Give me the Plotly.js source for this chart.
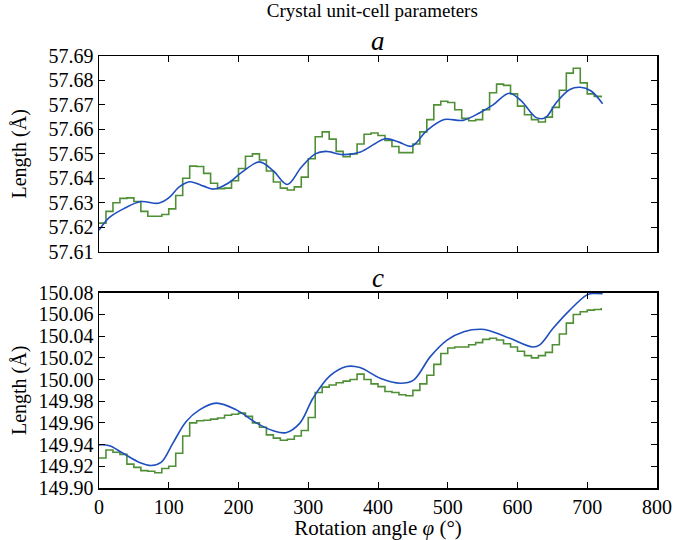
<!DOCTYPE html>
<html>
<head>
<meta charset="utf-8">
<script src="https://cdn.plot.ly/plotly-3.0.1.min.js"></script>
<style>body{margin:0;background:#fff}#plot{width:677px;height:540px}</style>
</head>
<body>
<div id="plot"></div>
<script>
// Step series angles (degrees)
const stepAngles = [0,10,20,30,40,50,60,70,80,90,100,110,120,130,140,150,160,170,180,190,200,210,220,230,240,250,260,270,280,290,300,310,320,330,340,350,360,370,380,390,400,410,420,430,440,450,460,470,480,490,500,510,520,530,540,550,560,570,580,590,600,610,620,630,640,650,660,670,680,690,700,710,720];

// Parameter a: measured (step) values
const aStep = [57.6217,57.6265,57.6300,57.6318,57.6320,57.6305,57.6265,57.6245,57.6245,57.6252,57.6275,57.6330,57.6400,57.6450,57.6448,57.6420,57.6380,57.6358,57.6360,57.6390,57.6440,57.6490,57.6500,57.6475,57.6430,57.6385,57.6360,57.6352,57.6365,57.6405,57.6480,57.6570,57.6590,57.6560,57.6510,57.6488,57.6500,57.6540,57.6580,57.6585,57.6575,57.6555,57.6530,57.6505,57.6505,57.6540,57.6590,57.6640,57.6700,57.6715,57.6710,57.6680,57.6645,57.6635,57.6640,57.6680,57.6750,57.6785,57.6780,57.6745,57.6695,57.6660,57.6640,57.6630,57.6650,57.6690,57.6760,57.6830,57.6850,57.6790,57.6745,57.6735,57.6730];

// Parameter a: smooth model
const aSmoothAngles = [0,15,35,60,85,100,115,130,150,165,185,205,230,250,270,290,310,325,350,375,395,410,430,448,470,495,522,546,565,588,605,627,640,656,675,690,705,722];
const aSmooth = [57.6188,57.6240,57.6275,57.6305,57.6298,57.6320,57.6365,57.6386,57.6368,57.6356,57.6380,57.6425,57.6467,57.6430,57.6375,57.6445,57.6500,57.6510,57.6497,57.6508,57.6540,57.6562,57.6548,57.6531,57.6595,57.6640,57.6637,57.6668,57.6700,57.6748,57.6718,57.6648,57.6648,57.6711,57.6763,57.6772,57.6758,57.6705];

// Parameter c: measured (step) values
const cStep = [149.9276,149.9350,149.9330,149.9310,149.9220,149.9190,149.9160,149.9155,149.9140,149.9180,149.9200,149.9320,149.9480,149.9600,149.9620,149.9625,149.9635,149.9645,149.9670,149.9680,149.9690,149.9660,149.9600,149.9560,149.9490,149.9460,149.9440,149.9450,149.9480,149.9530,149.9650,149.9880,149.9930,149.9950,149.9970,149.9985,150.0000,150.0050,150.0000,149.9960,149.9935,149.9890,149.9880,149.9860,149.9850,149.9900,149.9960,150.0040,150.0140,150.0240,150.0290,150.0300,150.0300,150.0320,150.0340,150.0370,150.0380,150.0365,150.0330,150.0300,150.0260,150.0220,150.0200,150.0220,150.0250,150.0320,150.0420,150.0520,150.0600,150.0625,150.0640,150.0645,150.0660];

// Parameter c: smooth model
const cSmoothAngles = [0,15,34,58,75,89,106,125,144,168,197,226,250,268,288,307,331,355,374,403,432,451,475,499,523,547,560,589,622,632,651,675,699,708,722];
const cSmooth = [149.9398,149.9390,149.9322,149.9236,149.9208,149.9236,149.9414,149.9613,149.9720,149.9782,149.9720,149.9598,149.9527,149.9510,149.9598,149.9830,150.0033,150.0120,150.0110,150.0012,149.9966,149.9995,150.0211,150.0364,150.0441,150.0463,150.0450,150.0380,150.0300,150.0320,150.0472,150.0640,150.0778,150.0793,150.0790];

const xTicks = [0,100,200,300,400,500,600,700,800];
const aTicks = [57.61,57.62,57.63,57.64,57.65,57.66,57.67,57.68,57.69];
const cTicks = [149.90,149.92,149.94,149.96,149.98,150.00,150.02,150.04,150.06,150.08];

const GREEN = '#4f8f35';
const BLUE = '#1f4fbf';
const FONT = 'Liberation Serif';

const traces = [
  {x: stepAngles, y: aStep, type: 'scatter', mode: 'lines', line: {shape: 'hv', color: GREEN, width: 1.6}, xaxis: 'x', yaxis: 'y', showlegend: false},
  {x: aSmoothAngles, y: aSmooth, type: 'scatter', mode: 'lines', line: {shape: 'spline', smoothing: 1, color: BLUE, width: 1.6}, xaxis: 'x', yaxis: 'y', showlegend: false},
  {x: stepAngles, y: cStep, type: 'scatter', mode: 'lines', line: {shape: 'hv', color: GREEN, width: 1.6}, xaxis: 'x2', yaxis: 'y2', showlegend: false},
  {x: cSmoothAngles, y: cSmooth, type: 'scatter', mode: 'lines', line: {shape: 'spline', smoothing: 1, color: BLUE, width: 1.6}, xaxis: 'x2', yaxis: 'y2', showlegend: false}
];

function axis(extra) {
  return Object.assign({
    showline: true, linecolor: '#000', linewidth: 1.5, mirror: 'ticks',
    ticks: 'inside', ticklen: 6, tickwidth: 1, tickcolor: '#000',
    showgrid: false, zeroline: false,
    tickfont: {family: FONT, size: 20, color: '#000'}
  }, extra);
}

const layout = {
  width: 677, height: 540,
  margin: {l: 99, r: 20, t: 56, b: 52},
  paper_bgcolor: '#fff', plot_bgcolor: '#fff',
  font: {family: FONT, color: '#000'},
  title: {text: 'Crystal unit-cell parameters', font: {family: FONT, size: 19, color: '#000'}, x: 0.55, xanchor: 'center', y: 0.981, yanchor: 'middle'},
  xaxis: axis({domain: [0, 1], range: [0, 800], tickvals: xTicks, showticklabels: false, anchor: 'y'}),
  yaxis: axis({domain: [0.547, 1], range: [57.61, 57.69], tickvals: aTicks, tickformat: '.2f', anchor: 'x',
    title: {text: 'Length (Å)', font: {family: FONT, size: 20, color: '#000'}, standoff: 16}}),
  xaxis2: axis({domain: [0, 1], range: [0, 800], tickvals: xTicks, anchor: 'y2',
    title: {text: 'Rotation angle <i>φ</i> (°)', font: {family: FONT, size: 21, color: '#000'}, standoff: 10}}),
  yaxis2: axis({domain: [0, 0.452], range: [149.90, 150.08], tickvals: cTicks, tickformat: '.2f', anchor: 'x2',
    title: {text: 'Length (Å)', font: {family: FONT, size: 20, color: '#000'}, standoff: 6}}),
  annotations: [
    {text: '<i>a</i>', xref: 'paper', yref: 'paper', x: 0.5, y: 1.0, xanchor: 'center', yanchor: 'bottom', yshift: -2, showarrow: false, font: {family: FONT, size: 27, color: '#000'}},
    {text: '<i>c</i>', xref: 'paper', yref: 'paper', x: 0.5, y: 0.452, xanchor: 'center', yanchor: 'bottom', yshift: -2, showarrow: false, font: {family: FONT, size: 27, color: '#000'}}
  ]
};

Plotly.newPlot('plot', traces, layout, {displayModeBar: false, staticPlot: true});
</script>
</body>
</html>
